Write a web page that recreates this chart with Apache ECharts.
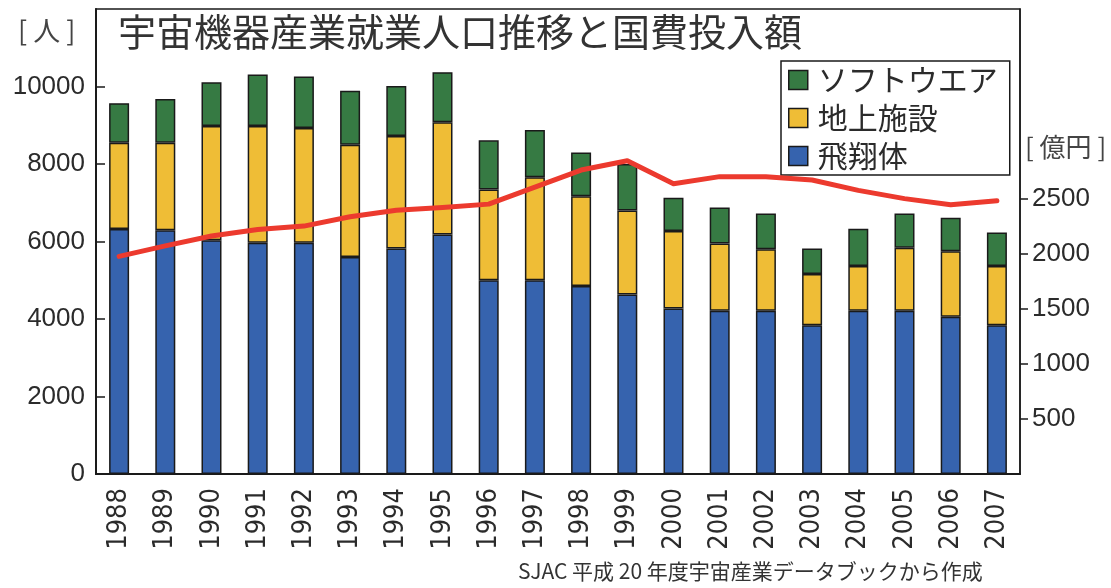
<!DOCTYPE html>
<html>
<head>
<meta charset="utf-8">
<script src="https://cdn.jsdelivr.net/npm/echarts@6/dist/echarts.min.js"></script>
<style>
  html, body { margin: 0; padding: 0; background: #fff; }
  #main { width: 1111px; height: 588px; }
</style>
</head>
<body>
<div id="main"></div>
<script>
// 年度
const years = ['1988','1989','1990','1991','1992','1993','1994','1995','1996','1997',
               '1998','1999','2000','2001','2002','2003','2004','2005','2006','2007'];
// 就業人口 [人]
const hishotai = [6320, 6290, 6030, 5970, 5970, 5600, 5820, 6180, 5000, 5000,
                  4850, 4630, 4270, 4210, 4210, 3840, 4210, 4210, 4060, 3840];
const chijou   = [2230, 2260, 2950, 3010, 2960, 2900, 2900, 2900, 2340, 2660,
                  2320, 2170, 2000, 1740, 1590, 1320, 1160, 1630, 1690, 1530];
const software = [1020, 1130, 1130, 1330, 1330, 1390, 1290, 1290, 1270, 1220,
                  1130, 1200, 860, 930, 920, 660, 960, 880, 860, 860];
// 国費投入額 [億円]
const kokuhi   = [1980, 2075, 2165, 2225, 2255, 2340, 2400, 2425, 2455, 2610,
                  2765, 2850, 2640, 2705, 2705, 2675, 2580, 2505, 2450, 2485];
// 目盛
const leftLabels = [0, 2000, 4000, 6000, 8000, 10000];
const leftTicks = [2000, 4000, 6000, 8000, 10000];
const rightLabels = [500, 1000, 1500, 2000, 2500];

const BORDER = '#1a1a1a';
const TEXT = '#2b2b2b';
const CJK = "'Noto Sans CJK JP', 'Noto Sans', sans-serif";
const NARROW = "'Liberation Sans Narrow', 'DejaVu Sans Condensed', 'Liberation Sans', sans-serif";

const chart = echarts.init(document.getElementById('main'));

function barSeries(name, data, color) {
  return {
    name: name,
    type: 'bar',
    stack: 'jinko',
    barWidth: 20,
    data: data,
    itemStyle: { color: color, borderColor: BORDER, borderWidth: 1.5 }
  };
}

const plain = function (v) { return String(v); };

chart.setOption({
  animation: false,
  backgroundColor: '#fff',
  grid: {
    left: 96, right: 91, top: 9, bottom: 114,
    show: true, borderColor: BORDER, borderWidth: 1.5
  },
  legend: {
    data: ['ソフトウエア', '地上施設', '飛翔体'],
    orient: 'vertical',
    left: 781, top: 61,
    padding: [4, 12, 4, 7],
    itemGap: 8,
    itemWidth: 19, itemHeight: 19,
    icon: 'rect',
    borderColor: BORDER, borderWidth: 1.5,
    backgroundColor: '#fff',
    itemStyle: { borderColor: BORDER, borderWidth: 1.5 },
    textStyle: { fontFamily: CJK, fontSize: 30, color: TEXT, padding: [0, 0, 0, 5] }
  },
  xAxis: {
    type: 'category',
    data: years,
    boundaryGap: true,
    axisLine: { lineStyle: { color: BORDER, width: 2 } },
    axisTick: { inside: true, length: 8, interval: 0, lineStyle: { color: BORDER, width: 1.5 } },
    axisLabel: {
      rotate: 90, interval: 0, margin: 14,
      fontFamily: NARROW, fontSize: 27, color: TEXT
    }
  },
  yAxis: [
    {
      type: 'value', min: 0, max: 12000,
      splitLine: { show: false },
      axisLine: { show: true, lineStyle: { color: BORDER, width: 2 } },
      axisTick: { show: true, inside: true, length: 9, customValues: leftTicks,
                  lineStyle: { color: BORDER, width: 1.5 } },
      axisLabel: { customValues: leftLabels, margin: 11, formatter: plain,
                   fontFamily: "'Liberation Sans', sans-serif", fontSize: 26, color: TEXT }
    },
    {
      type: 'value', min: 0, max: 4230,
      position: 'right',
      splitLine: { show: false },
      axisLine: { show: true, lineStyle: { color: BORDER, width: 1.5 } },
      axisTick: { show: true, length: 8, customValues: rightLabels,
                  lineStyle: { color: BORDER, width: 1.5 } },
      axisLabel: { customValues: rightLabels, margin: 12, formatter: plain,
                   fontFamily: "'Liberation Sans', sans-serif", fontSize: 26, color: TEXT }
    }
  ],
  series: [
    barSeries('飛翔体', hishotai, '#3663ae'),
    barSeries('地上施設', chijou, '#efbd36'),
    barSeries('ソフトウエア', software, '#367a43'),
    {
      name: '国費投入額',
      type: 'line',
      yAxisIndex: 1,
      data: kokuhi,
      symbol: 'none',
      smooth: false,
      z: 5,
      lineStyle: { color: '#ec3a2e', width: 5, join: 'round', cap: 'round' }
    }
  ],
  graphic: [
    { type: 'text', left: 118, top: 13,
      style: { text: '宇宙機器産業就業人口推移と国費投入額', font: '38px ' + CJK, fill: '#333' } },
    { type: 'text', left: 18, top: 17,
      style: { text: '[ 人 ]', font: '27px ' + CJK, fill: '#444' } },
    { type: 'text', left: 1025, top: 134,
      style: { text: '[ 億円 ]', font: '26px ' + CJK, fill: '#444' } },
    { type: 'text', left: 518, top: 561,
      style: { text: 'SJAC 平成 20 年度宇宙産業データブックから作成', font: '21px ' + CJK, fill: '#333' } }
  ]
});

window.onresize = function () {
  chart.resize();
};
</script>
</body>
</html>
